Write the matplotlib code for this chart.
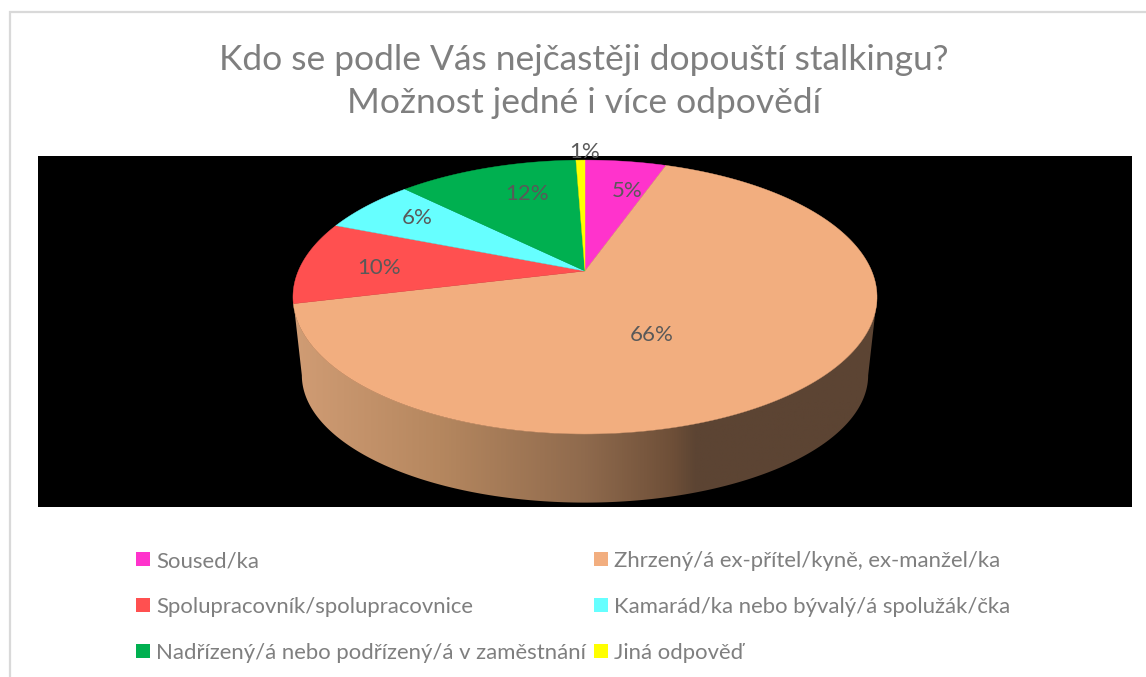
import numpy as np
import matplotlib
matplotlib.use('Agg')
import matplotlib.pyplot as plt
from matplotlib.colors import LinearSegmentedColormap
from matplotlib.patches import Polygon, Rectangle

plt.rcParams['font.family'] = ['Lato', 'DejaVu Sans']

# values in pie order, clockwise from 12 o'clock
names = ['Soused/ka', 'Zhrzený/á ex-přítel/kyně, ex-manžel/ka',
         'Spolupracovník/spolupracovnice', 'Kamarád/ka nebo bývalý/á spolužák/čka',
         'Nadřízený/á nebo podřízený/á v zaměstnání', 'Jiná odpověď']
values = [5.4, 65.8, 9.8, 6.4, 12.0, 0.6]
colors = ['#FF33CC', '#F2AE7F', '#FF5050', '#66FFFF', '#00B050', '#FFFF00']
title = 'Kdo se podle Vás nejčastěji dopouští stalkingu?\nMožnost jedné i více odpovědí'

# label positions in pixels, same order as values
label_x = [627, 652, 379, 417, 527, 585]
label_y = [191, 335, 268, 218, 194, 152]
# legend order, column by column
legend_order = [0, 2, 4, 1, 3, 5]

# perspective of the disc
K = 0.19


def disc(theta, cx, cy, a, b):
    # theta in degrees clockwise from top
    t = np.radians(theta)
    d = 1 + K * np.cos(t)
    return cx + a * np.sin(t) / d, cy - b * np.cos(t) / d


def top(theta):
    return disc(theta, 585, 271, 286.7, 132)


def bottom(theta):
    return disc(theta, 585, 351, 278, 122.8)


fig = plt.figure(figsize=(11.46, 6.77), dpi=100)
ax = fig.add_axes([0, 0, 1, 1])
ax.axis('off')

# chart frame and black plot area
ax.add_patch(Rectangle((9.5, 12), 1200, 800, fc='white', ec='#D9D9D9', lw=1.6))
ax.add_patch(Rectangle((38, 156), 1094, 351, fc='black', ec='none'))

# side of the pie with horizontal shading
th = np.linspace(101, 259, 200)
x1, y1 = top(th[::-1])
x2, y2 = bottom(th)
side = Polygon(np.column_stack([np.r_[x1, x2], np.r_[y1, y2]]), fc='none', ec='none')
ax.add_patch(side)
shade = LinearSegmentedColormap.from_list('shade', [
    (0.0, '#D09C74'), (0.25, '#B5875F'), (0.5, '#8F6A4D'),
    (0.65, '#6E4F38'), (0.69, '#5C4433'), (1.0, '#5C4433')])
img = ax.imshow(np.linspace(0, 1, 512)[None, :], extent=(294, 877, 507, 297),
                cmap=shade, aspect='auto', zorder=2)
img.set_clip_path(side)

# top of the pie
edges = np.cumsum([0] + values) / np.sum(values) * 360
for i in range(len(values)):
    th = np.linspace(edges[i], edges[i + 1], 200)
    x, y = top(th)
    ax.fill(np.r_[585, x], np.r_[271, y], fc=colors[i], ec=colors[i], lw=0.3, zorder=3)

for i in range(len(values)):
    ax.text(label_x[i], label_y[i], '%.0f%%' % values[i], fontsize=16, color='#595959',
            ha='center', va='center', zorder=4)

ax.text(584, 81.5, title, fontsize=25.5, color='#7F7F7F', ha='center', va='center',
        linespacing=1.45)

handles = [Rectangle((0, 0), 1, 1, fc=colors[i], ec='none') for i in legend_order]
leg = ax.legend(handles, [names[i] for i in legend_order], ncols=2,
                loc='upper left', bbox_to_anchor=(136 / 1146, 1 - 551 / 677),
                bbox_transform=fig.transFigure, frameon=False, fontsize=15.9,
                labelcolor='#7F7F7F', handlelength=0.63, handleheight=0.63,
                handletextpad=0.27, columnspacing=0.36, labelspacing=1.17,
                borderpad=0, borderaxespad=0)

ax.set_xlim(0, 1146)
ax.set_ylim(677, 0)
fig.savefig('out.png', dpi=100)
